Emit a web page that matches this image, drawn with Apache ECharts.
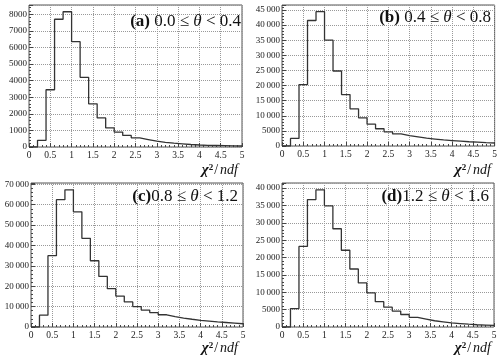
<!DOCTYPE html>
<html>
<head>
<meta charset="utf-8">
<script src="https://cdn.jsdelivr.net/npm/echarts@6/dist/echarts.min.js"></script>
<style>
  html, body { margin: 0; padding: 0; background: #fff; }
  #chart { width: 500px; height: 358px; }
</style>
</head>
<body>
<div id="chart"></div>
<script>
// bin low edges (width 0.2), last edge = xMax
const binEdges = [0, 0.2, 0.4, 0.6, 0.8, 1.0, 1.2, 1.4, 1.6, 1.8, 2.0, 2.2, 2.4,
  2.6, 2.8, 3.0, 3.2, 3.4, 3.6, 3.8, 4.0, 4.2, 4.4, 4.6, 4.8]
const xMax = 5

// counts per bin
const countsA = [0, 400, 3450, 7700, 8150, 6350, 4200, 2600, 1750, 1150, 900, 700, 550,
  450, 350, 280, 230, 190, 150, 120, 100, 90, 80, 70, 60]
const countsB = [0, 2500, 20300, 41500, 44400, 35000, 24800, 17000, 12300, 9300, 7200, 5700, 4700,
  4000, 3400, 3000, 2600, 2300, 2000, 1800, 1600, 1400, 1250, 1100, 1000]
const countsC = [0, 5800, 35000, 62500, 67300, 56500, 43500, 32500, 24800, 18800, 15200, 12300, 10000,
  8300, 7100, 6000, 5100, 4400, 3800, 3300, 2900, 2500, 2200, 1900, 1600]
const countsD = [0, 5300, 23200, 36700, 39500, 34900, 28300, 22100, 16700, 12700, 9800, 7300, 5700,
  4600, 3600, 2800, 2300, 1800, 1500, 1200, 1000, 800, 650, 550, 450]

// y tick step per panel
const yStepA = 1000
const yStepB = 5000
const yStepC = 10000
const yStepD = 5000

const panelTitles = [
  '{b|(a)}{n| 0.0 ≤ }{i|θ}{n| < 0.4}',
  '{b|(b)}{n| 0.4 ≤ }{i|θ}{n| < 0.8}',
  '{b|(c)}{n|0.8 ≤ }{i|θ}{n| < 1.2}',
  '{b|(d)}{n|1.2 ≤ }{i|θ}{n| < 1.6}'
]
const xTitle = '{c|χ}{s|2}{n|/}{i|ndf}'

const serif = '"Liberation Serif", "DejaVu Serif", serif'
const lineColor = '#333'
const gridColor = '#999'

// 四个面板的位置
const grids = [
  { left: 29, right: 258, top: 5, bottom: 211 },
  { left: 282, right: 5, top: 5, bottom: 212 },
  { left: 31, right: 257, top: 183, bottom: 31 },
  { left: 282, right: 6, top: 183, bottom: 31 }
]

const panels = [
  { counts: countsA, step: yStepA },
  { counts: countsB, step: yStepB },
  { counts: countsC, step: yStepC },
  { counts: countsD, step: yStepD }
]

const fmtY = (v) => {
  if (v >= 10000) return String(v).replace(/\B(?=(\d{3})+(?!\d))/g, '\u2009')
  return String(v)
}

const toSteps = (counts) => {
  const pts = binEdges.map((x, i) => [x, counts[i]])
  pts.push([xMax, counts[counts.length - 1]])
  return pts
}

const richTitle = {
  b: { fontFamily: serif, fontWeight: 'bold', fontSize: 17, color: '#111' },
  n: { fontFamily: serif, fontWeight: 'normal', fontSize: 17, color: '#111' },
  i: { fontFamily: serif, fontWeight: 'normal', fontStyle: 'italic', fontSize: 17, color: '#111' }
}
const richX = {
  c: { fontFamily: serif, fontStyle: 'italic', fontWeight: 'bold', fontSize: 15, color: '#111' },
  s: { fontFamily: serif, fontWeight: 'bold', fontSize: 9, color: '#111', verticalAlign: 'top', padding: [0, 1, 6, 0] },
  n: { fontFamily: serif, fontWeight: 'normal', fontSize: 14, color: '#111' },
  i: { fontFamily: serif, fontWeight: 'normal', fontStyle: 'italic', fontSize: 14, color: '#111', padding: [0, 0, 0, 2] }
}

const splitStyle = { show: true, lineStyle: { color: gridColor, type: 'dotted', width: 1 } }

const option = {
  animation: false,
  backgroundColor: '#fff',
  grid: grids.map(g => ({ ...g, show: true, borderColor: '#555', borderWidth: 1, containLabel: false })),
  title: [
    { text: panelTitles[0], right: 259, top: 13 },
    { text: panelTitles[1], right: 9, top: 9 },
    { text: panelTitles[2], right: 262, top: 188 },
    { text: panelTitles[3], right: 11, top: 188 },
    { text: xTitle, right: 262, top: 163 },
    { text: xTitle, right: 9, top: 163 },
    { text: xTitle, right: 262, top: 341 },
    { text: xTitle, right: 9, top: 341 }
  ].map(t => ({
    ...t,
    padding: 0,
    textStyle: { fontWeight: 'normal', rich: t.text.startsWith('{c') ? richX : richTitle }
  })),
  xAxis: panels.map((p, i) => ({
    type: 'value',
    gridIndex: i,
    min: 0,
    max: xMax,
    interval: 0.5,
    axisLine: { show: false },
    axisTick: { show: true, inside: true, length: 4, lineStyle: { color: '#444' } },
    minorTick: { show: true, splitNumber: 5, length: 2, lineStyle: { color: '#444' } },
    splitLine: splitStyle,
    axisLabel: {
      fontFamily: serif, fontSize: 9.5, color: '#222', margin: 3,
      showMaxLabel: true, formatter: (v) => String(v)
    }
  })),
  yAxis: panels.map((p, i) => ({
    type: 'value',
    gridIndex: i,
    min: 0,
    max: Math.max(...p.counts) * 1.05,
    interval: p.step,
    axisLine: { show: false },
    axisTick: { show: true, inside: true, length: 4, lineStyle: { color: '#444' } },
    minorTick: { show: true, splitNumber: 5, length: 2, lineStyle: { color: '#444' } },
    splitLine: splitStyle,
    axisLabel: {
      fontFamily: serif, fontSize: 9, color: '#222', margin: 2,
      showMaxLabel: false, formatter: fmtY
    }
  })),
  series: panels.map((p, i) => ({
    type: 'line',
    xAxisIndex: i,
    yAxisIndex: i,
    step: 'end',
    symbol: 'none',
    data: toSteps(p.counts),
    lineStyle: { color: lineColor, width: 1.3 }
  }))
}

const chart = echarts.init(document.getElementById('chart'))
chart.setOption(option)
</script>
</body>
</html>
